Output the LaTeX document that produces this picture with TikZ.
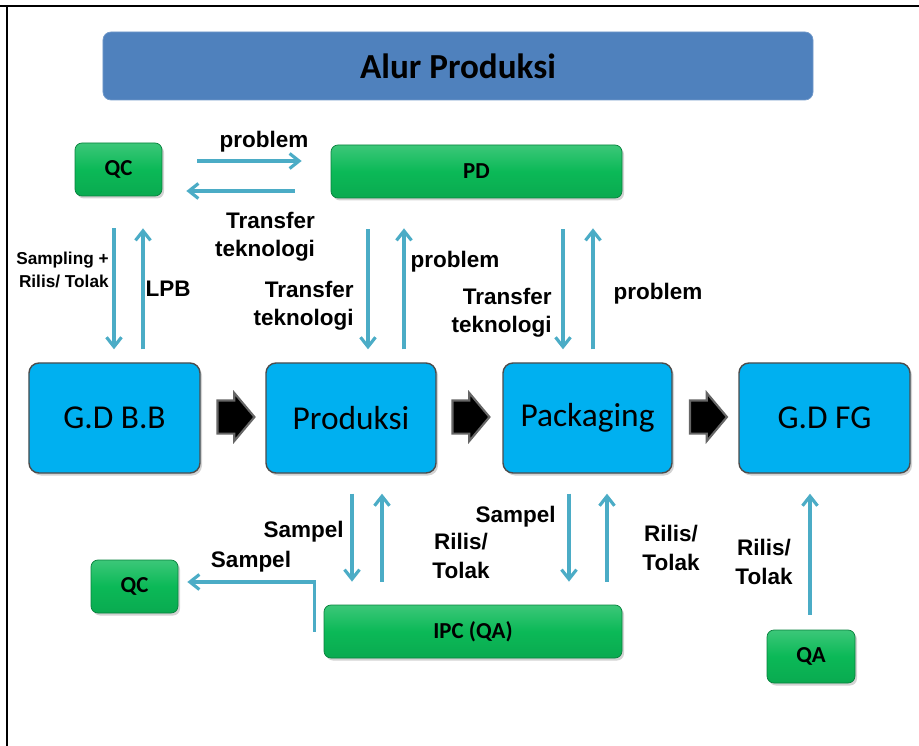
\documentclass[tikz,border=0pt]{standalone}
\usepackage{fontspec}
\setmainfont{Liberation Sans}
\newfontfamily\calibri{Carlito}
\usetikzlibrary{arrows.meta,shapes.arrows,shadows}

\definecolor{titleblue}{HTML}{4F81BD}
\definecolor{boxcyan}{HTML}{00B0F0}
\definecolor{boxgreen}{HTML}{0BB957}
\definecolor{flowblue}{HTML}{4BACC6}

\begin{document}
\begin{tikzpicture}[x=0.2mm,y=-0.2mm]
	\tikzset{TitleStyle/.style =
		{draw = titleblue!80!white,
			fill = titleblue,
			rounded corners = 1.6mm,
			minimum width = 142mm,
			minimum height = 13.6mm,
			font = \calibri\bfseries\fontsize{20}{24}\selectfont}}
	\tikzset{StepStyle/.style =
		{draw = black!70,
			fill = boxcyan,
			rounded corners = 2mm,
			line width = 0.8pt,
			minimum width = 34.2mm,
			minimum height = 22mm,
			drop shadow = {opacity=0.35,shadow xshift=0.4mm,shadow yshift=-0.5mm},
			font = \calibri\fontsize{19}{23}\selectfont}}
	\tikzset{DeptStyle/.style =
		{draw = boxgreen!70!black,
			top color = boxgreen!80!white,
			bottom color = boxgreen!92!black,
			middle color = boxgreen,
			rounded corners = 1.4mm,
			minimum width = 17.4mm,
			minimum height = 10.6mm,
			drop shadow = {opacity=0.35,shadow xshift=0.4mm,shadow yshift=-0.5mm},
			font = \calibri\bfseries\fontsize{13}{15}\selectfont}}
	\tikzset{BlockArrow/.style =
		{single arrow,
			draw = black!60,
			fill = black,
			line width = 1.2pt,
			inner xsep = 0pt,
			inner ysep = 3.1mm,
			minimum height = 7.4mm,
			single arrow head extend = 1.5mm,
			single arrow tip angle = 100}}
	\tikzset{flow/.style =
		{draw = flowblue,
			line width = 1.8pt,
			-{Straight Barb[length=1.9mm,width=3mm]}}}
	\tikzset{LabelStyle/.style =
		{inner sep = 0pt,
			font = \bfseries\fontsize{12.8}{16}\selectfont}}
	\useasboundingbox (0,0) rectangle (919,746);
	\draw[line width=1.4pt] (0,6) -- (919,6);
	\draw[line width=1.1pt] (7,6) -- (7,746);
	\node[TitleStyle] (title) at (458,66) {Alur Produksi};
	\node[DeptStyle] (qcA) at (118.5,169.5) {QC};
	\node[DeptStyle, minimum width=58.2mm] (pd) at (476.5,171.5) {PD};
	\node[StepStyle] (gdbb) at (114.5,418) {G.D B.B};
	\node[StepStyle, minimum width=34mm] (prod) at (351,418) {Produksi};
	\node[StepStyle, minimum width=33.8mm] (pack) at (587.5,418) {Packaging};
	\node[StepStyle] (gdfg) at (824.5,418) {G.D FG};
	\node[DeptStyle] (qcB) at (134.5,586.5) {QC};
	\node[DeptStyle, minimum width=59.6mm] (ipc) at (473,631.5) {IPC (QA)};
	\node[DeptStyle, minimum width=17.6mm] (qa) at (811,656.5) {QA};
	\node[BlockArrow] (arrA) at (229,417) {};
	\node[BlockArrow] (arrB) at (464,417) {};
	\node[BlockArrow] (arrC) at (701.5,417) {};
	%\tikzset{EdgeStyle/.style={->}}
	\draw[flow, shorten <=7mm, shorten >=5.8mm] ([yshift=1.7mm]qcA.east) -- ([yshift=1.7mm]qcA.east -| pd.west);
	\draw[flow, shorten <=7.2mm, shorten >=4.8mm] ([yshift=-4.3mm]qcA.east -| pd.west) -- ([yshift=-4.3mm]qcA.east);
	\draw[flow, shorten <=6.4mm, shorten >=2.6mm] ([xshift=-0.9mm]qcA.south) -- ([xshift=-0.9mm]qcA.south |- gdbb.north);
	\draw[flow, shorten <=2.6mm, shorten >=6.4mm] ([xshift=4.9mm]qcA.south |- gdbb.north) -- ([xshift=4.9mm]qcA.south);
	\draw[flow, shorten <=6.2mm, shorten >=2.6mm] ([xshift=-21.7mm]pd.south) -- ([xshift=-21.7mm]pd.south |- prod.north);
	\draw[flow, shorten <=2.6mm, shorten >=6mm] ([xshift=-14.5mm]pd.south |- prod.north) -- ([xshift=-14.5mm]pd.south);
	\draw[flow, shorten <=6.2mm, shorten >=2.6mm] ([xshift=17.3mm]pd.south) -- ([xshift=17.3mm]pd.south |- pack.north);
	\draw[flow, shorten <=2.6mm, shorten >=6mm] ([xshift=23.3mm]pd.south |- pack.north) -- ([xshift=23.3mm]pd.south);
	\draw[flow, shorten <=4mm, shorten >=4.6mm] ([xshift=0.2mm]prod.south) -- ([xshift=0.2mm]prod.south |- ipc.north);
	\draw[flow, shorten <=4.6mm, shorten >=4mm] ([xshift=6.2mm]prod.south |- ipc.north) -- ([xshift=6.2mm]prod.south);
	\draw[flow, shorten <=4mm, shorten >=4.6mm] ([xshift=-3.7mm]pack.south) -- ([xshift=-3.7mm]pack.south |- ipc.north);
	\draw[flow, shorten <=4.6mm, shorten >=4mm] ([xshift=3.9mm]pack.south |- ipc.north) -- ([xshift=3.9mm]pack.south);
	\draw[flow, shorten <=3mm, shorten >=4mm] ([xshift=-0.2mm]qa.north) -- ([xshift=-0.2mm]qa.north |- gdfg.south);
	\draw[flow, shorten >=1.8mm] ([xshift=-1.8mm]ipc.west) |- ([yshift=0.9mm]qcB.east);
	\node[LabelStyle] (lbProblemA) at (264,142) {problem};
	\node[LabelStyle, align=right] (lbTransferA) at (265,237) {Transfer\\teknologi};
	\node[LabelStyle, align=right, anchor=east, font=\bfseries\fontsize{9.8}{13}\selectfont] (lbSampling) at (109,270) {Sampling +\\Rilis/ Tolak};
	\node[LabelStyle] (lbLPB) at (168,289) {LPB};
	\node[LabelStyle, align=right, anchor=east] (lbTransferB) at (354,306) {Transfer\\teknologi};
	\node[LabelStyle] (lbProblemB) at (455,262) {problem};
	\node[LabelStyle, align=right, anchor=east] (lbTransferC) at (552,313) {Transfer\\teknologi};
	\node[LabelStyle] (lbProblemC) at (658,294) {problem};
	\node[LabelStyle, anchor=east] (lbSampelA) at (344,532) {Sampel};
	\node[LabelStyle] (lbSampelB) at (251,562) {Sampel};
	\node[LabelStyle, anchor=east] (lbSampelC) at (556,517) {Sampel};
	\node[LabelStyle, align=center] (lbRilisA) at (461,556) {Rilis/\\Tolak};
	\node[LabelStyle, align=center] (lbRilisB) at (671,548) {Rilis/\\Tolak};
	\node[LabelStyle, align=center] (lbRilisC) at (764,562) {Rilis/\\Tolak};
\end{tikzpicture}
\end{document}
